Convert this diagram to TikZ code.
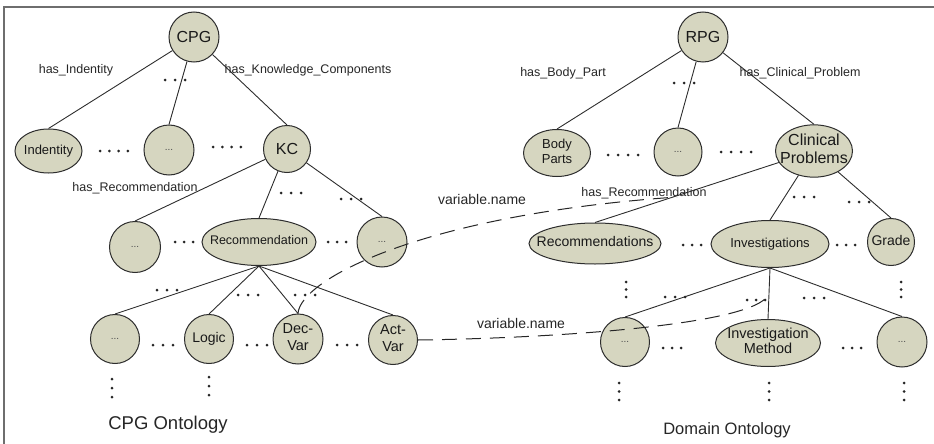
\documentclass[tikz,border=0pt]{standalone}
\usepackage{fontspec}
\setmainfont{Liberation Sans}
\usetikzlibrary{shapes.geometric}
\definecolor{nodefill}{RGB}{214,214,192}
\definecolor{framegray}{RGB}{110,110,110}
\definecolor{edgegray}{RGB}{45,45,45}
\newcommand{\fs}[2]{\fontsize{#1}{#2}\selectfont}
\newcommand{\nt}[3]{\makebox[0pt]{\fontsize{#1}{#2}\selectfont\begin{tabular}{@{}c@{}}#3\end{tabular}}}
\newcommand{\indts}{\makebox[0pt]{\fontsize{10}{12}\selectfont\textcolor{black!70}{...}}}
\newcommand{\dotrow}[4]{\foreach \i in {1,...,#3}{\fill[black!85] ({#1+(\i-(#3+1)/2)*#4},#2) circle (1.5pt);}}
\newcommand{\dotcol}[3]{\foreach \i in {0,1,2}{\fill[black!85] (#1,{#2+\i*#3}) circle (1.5pt);}}
\tikzset{
  ont/.style={draw=edgegray, fill=nodefill, line width=1pt, inner sep=0pt, text=black!90},
  cnd/.style={ont, circle},
  end/.style={ont, ellipse},
  edge/.style={draw=edgegray, line width=0.9pt},
  elab/.style={inner sep=0pt, font=\fs{12.5}{14}, text=black!85},
  dashline/.style={draw=black!85, line width=1pt, dash pattern=on 15pt off 9pt}
}
\begin{document}
\begin{tikzpicture}[x=1pt,y=-1pt]
\useasboundingbox (0,0) rectangle (934,444);
\draw[framegray, line width=2.7pt] (4,444) -- (4,7) -- (934,7);

% ---------- left tree ----------
\node[cnd, minimum size=50] (cpg) at (194,37) {\fs{16}{18}CPG};
\node[end, minimum width=67, minimum height=44] (ind) at (48.5,151) {\nt{13}{15}{Indentity}};
\node[cnd, minimum size=50] (ld1) at (169,150) {\indts};
\node[cnd, minimum size=47] (kc) at (287,149) {\fs{16}{18}KC};
\node[cnd, minimum size=51] (l2a) at (135,247) {\indts};
\node[end, minimum width=114, minimum height=47] (rec) at (259,242) {\nt{12.5}{14}{Recommendation}};
\node[cnd, minimum size=50] (l2c) at (382,242) {\indts};
\node[cnd, minimum size=49] (l3a) at (115,339) {\indts};
\node[cnd, minimum size=49] (logic) at (209,339) {\nt{14}{16}{Logic}};
\node[cnd, minimum size=50] (decvar) at (298,339) {\nt{14.5}{17}{Dec-\\Var}};
\node[cnd, minimum size=49] (actvar) at (393,340) {\nt{14.5}{17}{Act-\\Var}};

\draw[edge] (cpg) -- (ind.north);
\draw[edge] (cpg) -- (ld1.north);
\draw[edge] (cpg) -- (kc.north);
\draw[edge] (kc) -- (l2a.north);
\draw[edge] (kc) -- (rec.north);
\draw[edge] (kc) -- (l2c.north);
\draw[edge] (rec.south) -- (l3a.north);
\draw[edge] (rec.south) -- (logic.north);
\draw[edge] (rec.south) -- (decvar.north);
\draw[edge] (rec.south) -- (actvar.north);

\node[elab] (lhi) at (76,70) {has\_Indentity};
\node[elab] (lhk) at (308,70) {has\_Knowledge\_Components};
\node[elab] (lhr) at (135,188) {has\_Recommendation};

\dotrow{175}{80}{3}{10}
\dotrow{114}{151}{4}{9.3}
\dotrow{227}{147}{4}{9.3}
\dotrow{291}{193}{3}{10}
\dotrow{351}{199}{3}{10}
\dotrow{184}{242}{3}{9}
\dotrow{337}{242}{3}{9}
\dotrow{167}{290}{3}{10}
\dotrow{248}{295}{3}{10}
\dotrow{305}{295}{3}{10}
\dotrow{163}{345}{3}{10}
\dotrow{257}{345}{3}{10}
\dotrow{347}{345}{3}{10}
\dotcol{112}{379}{9}
\dotcol{209}{377}{9}

\node[inner sep=0pt, font=\fs{18.5}{20}, text=black!85] (cpgont) at (168,425) {CPG Ontology};

% ---------- right tree ----------
\node[cnd, minimum size=50] (rpg) at (703,37) {\fs{16}{18}RPG};
\node[end, minimum width=67, minimum height=47] (body) at (557,153) {\nt{13}{14.5}{Body\\Parts}};
\node[cnd, minimum size=48] (rd1) at (678,152) {\indts};
\node[end, minimum width=77, minimum height=46] (clin) at (814,151) {\nt{16}{18.5}{Clinical\\Problems}};
\node[end, minimum width=132, minimum height=41] (recs) at (595,243.5) {\nt{14}{16}{Recommendations}};
\node[end, minimum width=118, minimum height=47] (inv) at (770,244) {\nt{13}{15}{Investigations}};
\node[cnd, minimum size=47] (grade) at (891,242) {\nt{14}{16}{Grade}};
\node[cnd, minimum size=49] (r3a) at (625,342) {\indts};
\node[end, minimum width=105, minimum height=47] (invm) at (768,343) {\nt{14.5}{15.5}{Investigation\\Method}};
\node[cnd, minimum size=50] (r3c) at (902,342) {\indts};

\draw[edge] (rpg) -- (body.north);
\draw[edge] (rpg) -- (rd1.north);
\draw[edge] (rpg) -- (clin.north);
\draw[edge] (clin) -- (recs.north);
\draw[edge] (clin) -- (inv.north);
\draw[edge] (clin) -- (grade.north);
\draw[edge] (inv.south) -- (r3a.north);
\draw[edge] (inv.south) -- (invm.north);
\draw[edge] (inv.south) -- (r3c.north);

\node[elab] (rhb) at (563,73) {has\_Body\_Part};
\node[elab] (rhc) at (800,73) {has\_Clinical\_Problem};
\node[elab] (rhr) at (644,193) {has\_Recommendation};

\dotrow{684}{83}{3}{10}
\dotrow{623}{155}{4}{10}
\dotrow{736}{152}{4}{10}
\dotrow{804}{197}{3}{10}
\dotrow{859}{202}{3}{10}
\dotrow{692}{245}{3}{9}
\dotrow{846}{245}{3}{9}
\dotcol{626}{282}{7.5}
\dotcol{901}{282}{7.5}
\dotrow{675}{297}{3}{10}
\dotrow{756}{300}{3}{9}
\dotrow{814}{298}{3}{10}
\dotrow{672}{348}{3}{9}
\dotrow{852}{348}{3}{9}
\dotcol{619}{383}{8.5}
\dotcol{769}{383}{8.5}
\dotcol{904}{383}{8.5}

\node[inner sep=0pt, font=\fs{16.5}{18}, text=black!85] (domont) at (727,430) {Domain Ontology};

% ---------- mappings ----------
\coordinate (vn1end) at (677,197);
\coordinate (vn2end) at (766,298);
\draw[dashline] (decvar.north) .. controls (300,280) and (420,215) .. (vn1end);
\draw[dashline] (actvar.east) .. controls (560,338) and (740,325) .. (vn2end);
\node[inner sep=0pt, font=\fs{14}{16}, text=black!85] (vn1) at (482,199) {variable.name};
\node[inner sep=0pt, font=\fs{14}{16}, text=black!85] (vn2) at (521,323) {variable.name};
\end{tikzpicture}
\end{document}
